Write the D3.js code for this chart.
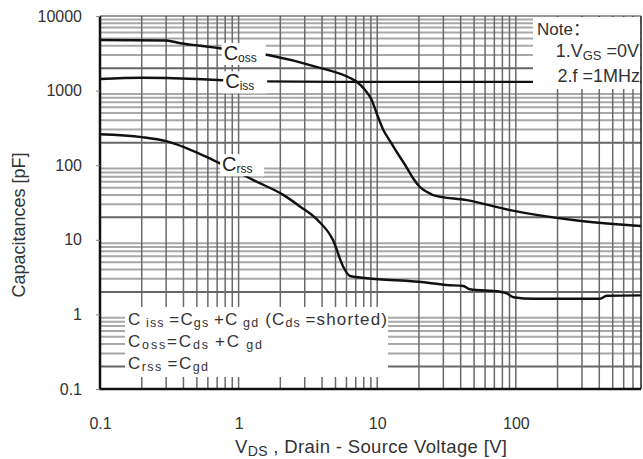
<!DOCTYPE html>
<html><head><meta charset="utf-8">
<script src="https://cdn.jsdelivr.net/npm/d3@7/dist/d3.min.js"></script>
<style>body{margin:0;background:#fff}svg{display:block;font-family:"Liberation Sans",Arial,"Noto Sans CJK SC",sans-serif}</style>
</head><body>
<svg id="c" width="643" height="459"></svg>
<script>
// ---- data ----
const xTicks = [0.1, 1, 10, 100];
const yTicks = [0.1, 1, 10, 100, 1000, 10000];
const cissV = [0.1, 0.2, 0.5, 0.7, 1.5, 5, 10, 100, 800];
const cissC = [1430, 1490, 1430, 1390, 1330, 1310, 1310, 1310, 1310];
const cossV = [0.1, 0.3, 0.38, 0.53, 0.73, 1.63, 3.69, 6.38, 7.11, 8.17, 9.13, 9.9, 11.07, 12.37, 13.9, 15.9, 18.1, 20.0, 22.9, 25.3, 44.3, 90.8, 259, 800];
const cossC = [4770, 4700, 4310, 4000, 3690, 3000, 2070, 1475, 1316, 1018, 748, 497, 297, 211, 148, 100.6, 67.4, 52.6, 43.7, 39.8, 34, 25, 18.4, 15.3];
const crssV = [0.1, 0.2, 0.3, 0.42, 0.65, 1.08, 1.28, 2.1, 2.77, 3.7, 4.8, 5.69, 6.36, 8.4, 20, 31.7, 41.8, 46.7, 77, 86, 96, 134, 405, 453, 800];
const crssC = [260, 238, 210, 170, 118, 74, 63, 40, 28, 18.5, 9.9, 4.35, 3.27, 3.05, 2.74, 2.48, 2.4, 2.17, 2.01, 1.92, 1.7, 1.62, 1.62, 1.78, 1.8];

const svg = d3.select("#c");
const L = 100, R = 641, T = 16, B = 389;
const x = d3.scaleLog().domain([0.1, 800]).range([L, R]);
const y = d3.scaleLog().domain([0.1, 10000]).range([B, T]);

// minor grid values
const hVals = [], vVals = [];
for (let e = -1; e < 4; e++) for (let k = 2; k <= 9; k++) hVals.push(k * Math.pow(10, e));
for (let e = -1; e < 3; e++) for (let k = 1; k <= 9; k++) { const v = k * Math.pow(10, e); if (v > 0.1 && v < 800) vVals.push(v); }

const grid = svg.append("g");
grid.selectAll("line.h").data(hVals).enter().append("line")
  .attr("x1", L).attr("x2", R).attr("y1", d => y(d)).attr("y2", d => y(d))
  .attr("stroke", d => (Math.abs(d / Math.pow(10, Math.floor(Math.log10(d) + 1e-9)) - 2) < 1e-6) ? "#666" : "#a8a8a8")
  .attr("stroke-width", 2);
grid.selectAll("line.v").data(vVals).enter().append("line")
  .attr("y1", T).attr("y2", B).attr("x1", d => x(d)).attr("x2", d => x(d))
  .attr("stroke", "#6a6a6a").attr("stroke-width", 1.5);

// curves
const line = d3.line().x(d => x(d[0])).y(d => y(d[1])).curve(d3.curveMonotoneX);
const series = [[cissV, cissC], [cossV, cossC], [crssV, crssC]];
svg.append("g").selectAll("path").data(series).enter().append("path")
  .attr("d", s => line(s[0].map((v, i) => [v, s[1][i]])))
  .attr("fill", "none").attr("stroke", "#111").attr("stroke-width", 2.4);

// curve labels (white boxes)
function cLabel(px, py, sub) {
  const g = svg.append("g");
  g.append("rect").attr("x", px - 2).attr("y", py - 17).attr("width", sub.length * 8 + 20).attr("height", 22).attr("fill", "#fff");
  const t = g.append("text").attr("x", px).attr("y", py).attr("fill", "#222").attr("font-size", 20).text("C");
  t.append("tspan").attr("font-size", 12).attr("dy", 2).text(sub);
}
cLabel(x(0.78), y(3300) + 8, "oss");
cLabel(x(0.8), y(1330) + 7, "iss");
cLabel(x(0.76), y(100) + 6, "rss");

// frame
svg.append("line").attr("x1", L).attr("x2", R).attr("y1", T).attr("y2", T).attr("stroke", "#333").attr("stroke-width", 1.2);
svg.append("line").attr("x1", R).attr("x2", R).attr("y1", T).attr("y2", B).attr("stroke", "#222").attr("stroke-width", 1.5);

// note box
const nb = svg.append("g");
nb.append("rect").attr("x", 533).attr("y", T + 1).attr("width", R - 533 - 1).attr("height", 72).attr("fill", "#fff");
nb.append("text").attr("x", 537).attr("y", 35).attr("font-size", 17).attr("fill", "#333").text("Note：");
const n1 = nb.append("text").attr("x", 639).attr("y", 57).attr("text-anchor", "end").attr("font-size", 18).attr("fill", "#333");
n1.append("tspan").text("1.V");
n1.append("tspan").attr("font-size", 13).attr("dy", 3).text("GS");
n1.append("tspan").attr("dy", -3).text(" =0V");
nb.append("text").attr("x", 640).attr("y", 82).attr("text-anchor", "end").attr("font-size", 18).attr("fill", "#333").text("2.f =1MHz");

// legend box
const lb = svg.append("g");
lb.append("rect").attr("x", 125).attr("y", 307).attr("width", 263).attr("height", 70).attr("fill", "#fff");
function legRow(py, parts, w) {
  const t = lb.append("text").attr("x", 128).attr("y", py).attr("font-size", 17).attr("fill", "#333");
  let low = false;
  parts.forEach(p => {
    const s = t.append("tspan").text(p[0]);
    if (p[1]) { s.attr("font-size", 12.5).attr("dy", low ? 0 : 2); low = true; }
    else { if (low) s.attr("dy", -2); low = false; }
  });
  t.attr("textLength", w).attr("lengthAdjust", "spacing");
}
legRow(325, [["C"], [" iss ", 1], ["=C"], ["gs ", 1], ["+C"], [" gd", 1], ["  (C"], ["ds ", 1], ["=shorted)"]], 259);
legRow(347, [["C"], ["oss", 1], ["=C"], ["ds ", 1], ["+C"], [" gd", 1]], 134);
legRow(369, [["C"], ["rss ", 1], ["=C"], ["gd", 1]], 80);

// axes
svg.append("line").attr("x1", L).attr("x2", L).attr("y1", T).attr("y2", B + 1).attr("stroke", "#111").attr("stroke-width", 2.5);
svg.append("line").attr("x1", L - 1).attr("x2", R).attr("y1", B).attr("y2", B).attr("stroke", "#111").attr("stroke-width", 2.5);

const ya = d3.axisLeft(y).tickValues(yTicks).tickFormat(d => d >= 1 ? d3.format("d")(d) : "0.1").tickSize(4).tickPadding(14);
const yg = svg.append("g").attr("transform", `translate(${L},0)`).call(ya);
yg.select(".domain").remove();
yg.selectAll(".tick line").attr("stroke", "#888");
yg.selectAll("text").attr("font-size", 16).attr("fill", "#333").attr("font-family", "Liberation Sans, Arial, sans-serif");

const xa = d3.axisBottom(x).tickValues(xTicks).tickFormat(d => d >= 1 ? d3.format("d")(d) : "0.1").tickSize(0).tickPadding(29);
const xg = svg.append("g").attr("transform", `translate(0,${B})`).call(xa);
xg.select(".domain").remove();
xg.selectAll("text").attr("font-size", 16).attr("fill", "#333").attr("font-family", "Liberation Sans, Arial, sans-serif");

// titles
const xt = svg.append("text").attr("x", 235).attr("y", 453).attr("font-size", 18.5).attr("fill", "#333");
xt.append("tspan").text("V");
xt.append("tspan").attr("font-size", 14).attr("dy", 3).text("DS");
xt.append("tspan").attr("dy", -3).text(" , Drain - Source Voltage [V]");
xt.attr("textLength", 272).attr("lengthAdjust", "spacing");

svg.append("text").attr("transform", "translate(25,225) rotate(-90)").attr("text-anchor", "middle")
  .attr("font-size", 18).attr("fill", "#333").text("Capacitances [pF]");
</script>
</body></html>
